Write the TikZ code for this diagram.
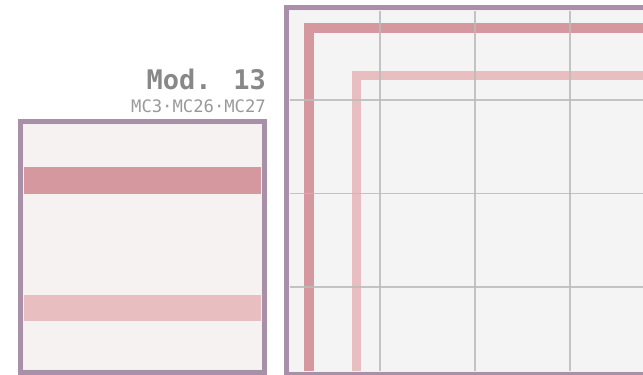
\documentclass[tikz,border=0pt]{standalone}
\usepackage{fontspec}
\newfontfamily\monofont{DejaVu Sans Mono}
\definecolor{boxborder}{HTML}{A890A8}
\definecolor{boxfill}{HTML}{F6F2F2}
\definecolor{boxfillb}{HTML}{F5F4F4}
\definecolor{bandA}{HTML}{D4989E}
\definecolor{bandB}{HTML}{E8BEC0}
\definecolor{gridc}{HTML}{BBBBBB}
\definecolor{txtA}{HTML}{888888}
\definecolor{txtB}{HTML}{999999}
\tikzset{
  panel/.style={draw=boxborder, line width=5pt},
  innerline/.style={draw=white!85!boxborder, line width=0.8pt},
  gridv/.style={draw=gridc, line width=1.8pt, opacity=0.85},
  gridh/.style={draw=gridc, line width=1.2pt, opacity=0.85},
  darkband/.style={draw=bandA, line width=10pt},
  lightband/.style={draw=bandB, line width=9pt},
}
\begin{document}
\begin{tikzpicture}[x=1pt,y=-1pt]
\useasboundingbox (0,0) rectangle (643,375);
\clip (0,0) rectangle (643,375);
% left panel (cross-section)
\fill[boxfill] (20.5,121.5) rectangle (264,372);
\fill[bandA] (23,167) rectangle (261.5,194);
\fill[bandB] (23,295) rectangle (261.5,321);
\draw[innerline] (23.4,124.4) rectangle (261.1,369.1);
\draw[panel] (20.5,121.5) rectangle (264,372);
% right panel (plan)
\fill[boxfillb] (286.5,7.5) rectangle (660,374);
\draw[darkband] (309,380) -- (309,28) -- (660,28);
\draw[lightband] (356,380) -- (356,75) -- (660,75);
\foreach \gx in {380,475,570} \draw[gridv] (\gx,8) -- (\gx,372);
\foreach \gy in {100,193.5,287} \draw[gridh] (288,\gy) -- (660,\gy);
\draw[innerline] (289.4,10.4) rectangle (665,371.1);
\draw[panel] (286.5,7.5) rectangle (670,374);
% labels
\node[anchor=base east, inner sep=0pt, text=txtA, font={\monofont\bfseries\fontsize{27}{30}\selectfont}] (title) at (266,89) {Mod. 13};
\node[anchor=base east, inner sep=0pt, text=txtB, font={\monofont\fontsize{17.2}{19}\selectfont}] (sub) at (266,112) {MC3·MC26·MC27};
\end{tikzpicture}
\end{document}
